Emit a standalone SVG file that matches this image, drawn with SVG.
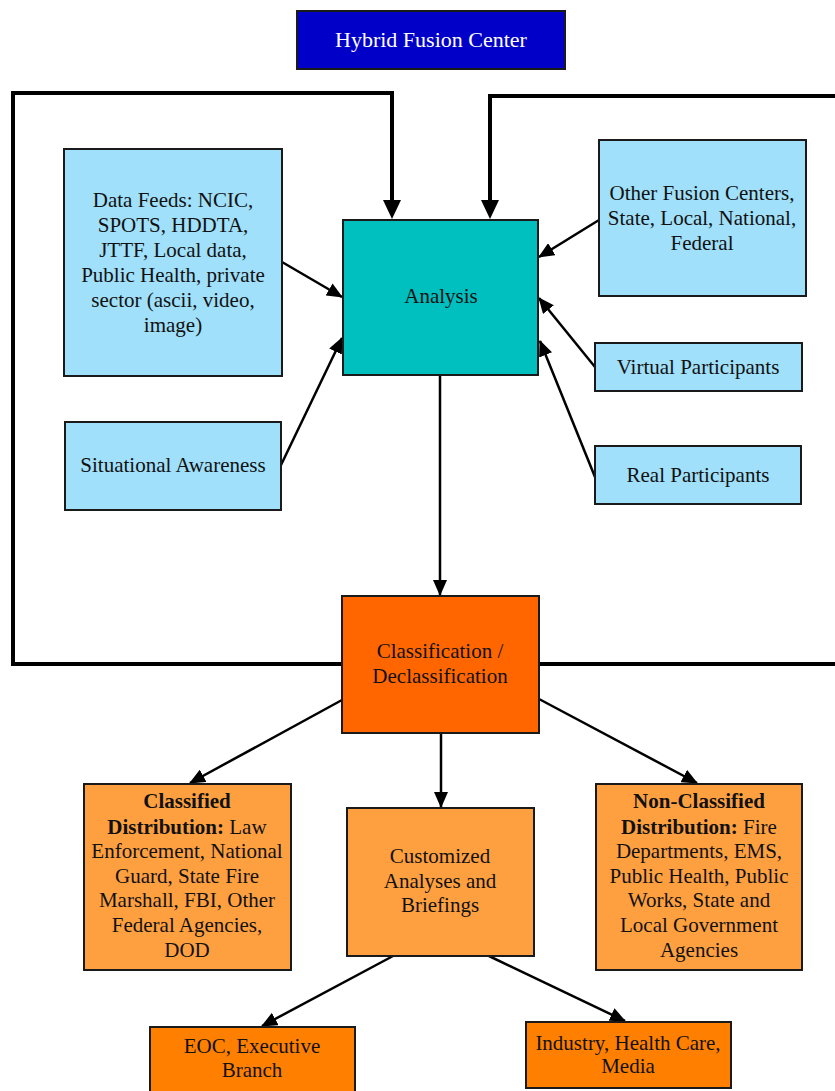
<svg xmlns="http://www.w3.org/2000/svg" width="835" height="1091" viewBox="0 0 835 1091">
<style>
  .box { stroke: #1a1a1a; stroke-width: 2; }
  .lb { fill: #A0E0FA; }
  .t { font-family: "Liberation Serif", "Times New Roman", serif; font-size: 21px; fill: #111; text-anchor: middle; }
  .b { font-weight: bold; }
  .conn { stroke: #000; stroke-width: 2.5; fill: none; }
  .loop { stroke: #000; stroke-width: 4; fill: none; }
  .head { fill: #000; }
</style>
<defs>
  <marker id="ah" markerUnits="userSpaceOnUse" markerWidth="16" markerHeight="14" refX="15" refY="7" orient="auto">
    <path d="M0,0 L16,7 L0,14 z" fill="#000"/>
  </marker>
</defs>
<rect width="835" height="1091" fill="#fff"/>

<g id="connectors">
  <path class="loop" d="M342,664 L13,664 L13,93 L392,93 L392,202" />
  <polygon class="head" points="383,200 401,200 392,219"/>
  <path class="loop" d="M539,664 L836,664" />
  <path class="loop" d="M836,96 L490,96 L490,202" />
  <polygon class="head" points="481,200 499,200 490,219"/>
  <line class="conn" x1="282" y1="262" x2="342" y2="297" marker-end="url(#ah)"/>
  <line class="conn" x1="281" y1="465" x2="342" y2="338" marker-end="url(#ah)"/>
  <line class="conn" x1="599" y1="220" x2="539" y2="257" marker-end="url(#ah)"/>
  <line class="conn" x1="595" y1="367" x2="539" y2="298" marker-end="url(#ah)"/>
  <line class="conn" x1="595" y1="477" x2="540" y2="341" marker-end="url(#ah)"/>
  <line class="conn" x1="440" y1="375" x2="440" y2="595" marker-end="url(#ah)"/>
  <line class="conn" x1="342" y1="700" x2="190" y2="783" marker-end="url(#ah)"/>
  <line class="conn" x1="441" y1="733" x2="441" y2="807" marker-end="url(#ah)"/>
  <line class="conn" x1="539" y1="699" x2="697" y2="783" marker-end="url(#ah)"/>
  <line class="conn" x1="393" y1="956" x2="262" y2="1026" marker-end="url(#ah)"/>
  <line class="conn" x1="489" y1="956" x2="625" y2="1021" marker-end="url(#ah)"/>
</g>

<g id="hybrid">
  <rect class="box" x="297" y="11" width="268" height="58" fill="#0000C8"/>
  <text class="t" x="431" y="47" style="fill:#fff;font-size:22px">Hybrid Fusion Center</text>
</g>

<g id="datafeeds">
  <rect class="box lb" x="64" y="149" width="218" height="227"/>
  <text class="t" x="173" y="207">Data Feeds: NCIC,</text>
  <text class="t" x="173" y="232">SPOTS, HDDTA,</text>
  <text class="t" x="173" y="257">JTTF, Local data,</text>
  <text class="t" x="173" y="282">Public Health, private</text>
  <text class="t" x="173" y="307">sector (ascii, video,</text>
  <text class="t" x="173" y="332">image)</text>
</g>

<g id="analysis">
  <rect class="box" x="343" y="220" width="195" height="155" fill="#00BFBF"/>
  <text class="t" x="441" y="303">Analysis</text>
</g>

<g id="otherfusion">
  <rect class="box lb" x="599" y="140" width="207" height="156"/>
  <text class="t" x="702" y="200">Other Fusion Centers,</text>
  <text class="t" x="702" y="225">State, Local, National,</text>
  <text class="t" x="702" y="250">Federal</text>
</g>

<g id="virtual">
  <rect class="box lb" x="595" y="343" width="207" height="48"/>
  <text class="t" x="698" y="374">Virtual Participants</text>
</g>

<g id="situational">
  <rect class="box lb" x="65" y="422" width="216" height="88"/>
  <text class="t" x="173" y="472">Situational Awareness</text>
</g>

<g id="real">
  <rect class="box lb" x="595" y="446" width="206" height="58"/>
  <text class="t" x="698" y="482">Real Participants</text>
</g>

<g id="classification">
  <rect class="box" x="342" y="596" width="197" height="137" fill="#FF6600"/>
  <text class="t" x="440" y="658">Classification /</text>
  <text class="t" x="440" y="683">Declassification</text>
</g>

<g id="classified">
  <rect class="box" x="84" y="784" width="207" height="186" fill="#FFA040"/>
  <text class="t b" x="187" y="808">Classified</text>
  <text class="t" x="187" y="834"><tspan class="b">Distribution:</tspan>  Law</text>
  <text class="t" x="187" y="858">Enforcement, National</text>
  <text class="t" x="187" y="883">Guard, State Fire</text>
  <text class="t" x="187" y="907">Marshall, FBI, Other</text>
  <text class="t" x="187" y="932">Federal Agencies,</text>
  <text class="t" x="187" y="957">DOD</text>
</g>

<g id="customized">
  <rect class="box" x="347" y="808" width="187" height="148" fill="#FFA040"/>
  <text class="t" x="440" y="863">Customized</text>
  <text class="t" x="440" y="888">Analyses and</text>
  <text class="t" x="440" y="912">Briefings</text>
</g>

<g id="nonclassified">
  <rect class="box" x="596" y="784" width="206" height="186" fill="#FFA040"/>
  <text class="t b" x="699" y="808">Non-Classified</text>
  <text class="t" x="699" y="834"><tspan class="b">Distribution:</tspan> Fire</text>
  <text class="t" x="699" y="858">Departments, EMS,</text>
  <text class="t" x="699" y="883">Public Health, Public</text>
  <text class="t" x="699" y="907">Works, State and</text>
  <text class="t" x="699" y="932">Local Government</text>
  <text class="t" x="699" y="957">Agencies</text>
</g>

<g id="eoc">
  <rect class="box" x="150" y="1027" width="205" height="70" fill="#FF8000"/>
  <text class="t" x="252" y="1053">EOC, Executive</text>
  <text class="t" x="252" y="1077">Branch</text>
</g>

<g id="industry">
  <rect class="box" x="526" y="1022" width="205" height="66" fill="#FF8000"/>
  <text class="t" x="628" y="1050">Industry, Health Care,</text>
  <text class="t" x="628" y="1073">Media</text>
</g>
</svg>
